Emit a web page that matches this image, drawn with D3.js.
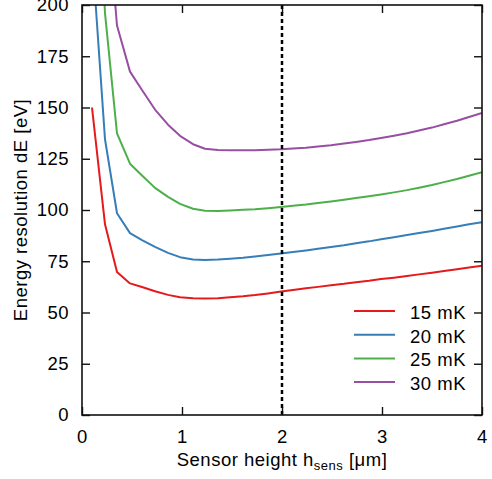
<!DOCTYPE html>
<html>
<head>
<meta charset="utf-8">
<script src="https://cdn.jsdelivr.net/npm/d3@7"></script>
<style>
  body { margin: 0; background: #fff; }
  svg text { font-family: "Liberation Sans", Arial, sans-serif; fill: #000; letter-spacing: 0.5px; }
</style>
</head>
<body>
<svg id="chart" width="492" height="479"></svg>
<script>
// sensor height [um]
const hSens = [0.1, 0.23, 0.35, 0.48, 0.6, 0.73, 0.86, 0.98, 1.11, 1.23, 1.36, 1.48,
               1.61, 1.73, 1.86, 1.99, 2.11, 2.24, 2.36, 2.49, 2.62, 2.74, 2.87, 2.99,
               3.12, 3.25, 3.37, 3.5, 3.62, 3.75, 3.87, 4.0];

// energy resolution dE [eV] per temperature
const dE15 = [150, 93, 69.8, 64.2, 62.4, 60.4, 58.6, 57.4, 56.9, 56.8, 57.0, 57.4,
              57.9, 58.5, 59.3, 60.2, 61.0, 61.8, 62.5, 63.3, 64.0, 64.8, 65.5, 66.3,
              67.0, 67.8, 68.6, 69.4, 70.2, 71.1, 71.9, 72.8];
const dE20 = [226, 134.5, 98.4, 88.7, 85.3, 82.0, 79.1, 77.0, 75.9, 75.6, 75.8, 76.2,
              76.7, 77.3, 78.0, 78.8, 79.5, 80.3, 81.1, 81.9, 82.8, 83.8, 84.7, 85.7,
              86.7, 87.8, 88.8, 89.8, 90.8, 91.9, 93.0, 94.0];
const dE25 = [320, 196, 137.4, 122.6, 116.8, 110.8, 106.4, 103.0, 100.6, 99.6, 99.5, 99.8,
              100.1, 100.4, 100.9, 101.5, 102.1, 102.7, 103.4, 104.2, 105.0, 105.8, 106.7, 107.6,
              108.6, 109.7, 110.9, 112.2, 113.6, 115.1, 116.7, 118.4];
const dE30 = [450, 261, 190, 167.5, 158.5, 149.0, 141.6, 136.2, 132.1, 129.9, 129.3, 129.2,
              129.2, 129.2, 129.4, 129.6, 130.0, 130.4, 131.0, 131.6, 132.4, 133.2, 134.1, 135.1,
              136.2, 137.4, 138.8, 140.2, 141.8, 143.5, 145.4, 147.3];

const seriesNames = ["15 mK", "20 mK", "25 mK", "30 mK"];
const seriesColors = ["#e41a1c", "#377eb8", "#4daf4a", "#984ea3"];
const seriesValues = [dE15, dE20, dE25, dE30];

const xTicks = [0, 1, 2, 3, 4];
const yTicks = [0, 25, 50, 75, 100, 125, 150, 175, 200];
const markerH = 2;

const svg = d3.select("#chart");
const margin = { top: 5, right: 10, bottom: 64, left: 82 };
const width = 492 - margin.left - margin.right;
const height = 479 - margin.top - margin.bottom;

const x = d3.scaleLinear().domain([0, 4]).range([0, width]);
const y = d3.scaleLinear().domain([0, 200]).range([height, 0]);

const g = svg.append("g")
    .attr("transform", `translate(${margin.left},${margin.top})`);

svg.append("defs").append("clipPath")
    .attr("id", "plot-clip")
  .append("rect")
    .attr("width", width)
    .attr("height", height);

const tickLen = 8;
const fontSize = 18.5;

// axes with inward ticks on all four sides
const axisStyle = sel => {
  sel.select(".domain").remove();
  sel.selectAll("line").attr("stroke", "#111").attr("stroke-width", 1.4);
};

g.append("g")
    .attr("transform", `translate(0,${height})`)
    .call(d3.axisBottom(x).tickValues(xTicks).tickSize(-tickLen).tickPadding(tickLen + 7).tickFormat(d3.format("d")))
    .call(axisStyle)
    .call(s => s.selectAll("text").attr("font-size", fontSize).attr("font-family", null));

g.append("g")
    .call(d3.axisTop(x).tickValues(xTicks).tickSize(-tickLen).tickFormat(""))
    .call(axisStyle);

g.append("g")
    .call(d3.axisLeft(y).tickValues(yTicks).tickSize(-tickLen).tickPadding(tickLen + 5))
    .call(axisStyle)
    .call(s => s.selectAll("text").attr("font-size", fontSize).attr("font-family", null));

g.append("g")
    .attr("transform", `translate(${width},0)`)
    .call(d3.axisRight(y).tickValues(yTicks).tickSize(-tickLen).tickFormat(""))
    .call(axisStyle);

// curves
const line = d3.line()
    .x(d => x(d[0]))
    .y(d => y(d[1]));

const plot = g.append("g").attr("clip-path", "url(#plot-clip)");

seriesValues.forEach((vals, i) => {
  plot.append("path")
      .datum(hSens.map((h, j) => [h, vals[j]]))
      .attr("fill", "none")
      .attr("stroke", seriesColors[i])
      .attr("stroke-width", 2)
      .attr("stroke-linejoin", "round")
      .attr("d", line);
});

// marker at chosen sensor height
plot.append("line")
    .attr("x1", x(markerH)).attr("x2", x(markerH))
    .attr("y1", 0).attr("y2", height)
    .attr("stroke", "#000")
    .attr("stroke-width", 2.5)
    .attr("stroke-dasharray", "4,3");

// frame
g.append("rect")
    .attr("width", width)
    .attr("height", height)
    .attr("fill", "none")
    .attr("stroke", "#111")
    .attr("stroke-width", 1.6);

// legend
const legend = g.append("g")
    .attr("transform", `translate(${width - 128},${311 - margin.top})`);

const legendItem = legend.selectAll(".legend-item")
    .data(seriesNames)
    .enter().append("g")
    .classed("legend-item", true)
    .attr("transform", (d, i) => `translate(0,${i * 23.7})`);

legendItem.append("line")
    .attr("x1", 0).attr("x2", 41)
    .attr("stroke", (d, i) => seriesColors[i])
    .attr("stroke-width", 2);

legendItem.append("text")
    .attr("x", 56)
    .attr("y", 8)
    .attr("font-size", fontSize)
    .text(d => d);

// axis titles
const xTitle = g.append("text")
    .attr("x", width / 2)
    .attr("y", height + 51)
    .attr("text-anchor", "middle")
    .attr("font-size", fontSize);
xTitle.append("tspan").text("Sensor height h");
xTitle.append("tspan").attr("font-size", 13).attr("dy", 4).text("sens");
xTitle.append("tspan").attr("dy", -4).text(" [\u03bcm]");

svg.append("text")
    .attr("transform", `translate(27,${margin.top + height / 2}) rotate(-90)`)
    .attr("text-anchor", "middle")
    .attr("font-size", fontSize)
    .text("Energy resolution dE [eV]");
</script>
</body>
</html>
